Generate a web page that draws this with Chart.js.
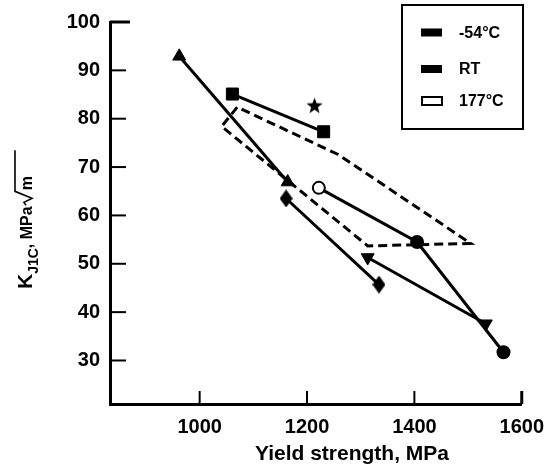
<!DOCTYPE html>
<html>
<head>
<meta charset="utf-8">
<script src="https://cdn.jsdelivr.net/npm/chart.js@4.4.0/dist/chart.umd.min.js"></script>
<style>
  html, body { margin: 0; padding: 0; background: #fff; }
</style>
</head>
<body>
<canvas id="grafica" width="555" height="472"></canvas>
<script>
// ticks
const xTicks = [1000, 1200, 1400, 1600];
const yTicks = [30, 40, 50, 60, 70, 80, 90, 100];

// series (yield strength MPa, KJ1C MPa*sqrt(m))
const trianguloArriba = [{x: 962, y: 92.9}, {x: 1164, y: 66.9}];
const cuadrados = [{x: 1061, y: 85.1}, {x: 1231, y: 77.3}];
const estrella = [{x: 1214, y: 82.8}];
const rombos = [{x: 1161, y: 63.5}, {x: 1334, y: 45.7}];
const circulos = [{x: 1222, y: 65.7}, {x: 1405, y: 54.5}, {x: 1566, y: 31.7}];
const circulosAbiertos = [true, false, false];
const trianguloAbajo = [{x: 1313, y: 51.3}, {x: 1533, y: 37.6}];
const banda = [
    {x: 1070, y: 82.4}, {x: 1041, y: 78.4}, {x: 1313, y: 53.7},
    {x: 1505, y: 54.2}, {x: 1258, y: 72.6}, {x: 1070, y: 82.4}
];

// legend and titles
const leyendaTextos = ['-54°C', 'RT', '177°C'];
const leyendaAbierta = [false, false, true];
const tituloX = 'Yield strength, MPa';
const tituloY = {base: 'K', sub: 'J1C', resto: ', MPa', raiz: 'm'};

const fuente = '"Liberation Sans", Arial, sans-serif';

const hacerEstrella = (r) => {
    const c = document.createElement('canvas');
    c.width = c.height = Math.ceil(r * 2) + 2;
    const g = c.getContext('2d');
    const cx = c.width / 2, cy = c.height / 2 + 1;
    g.beginPath();
    for (let i = 0; i < 10; i++) {
        const rr = i % 2 === 0 ? r : r * 0.42;
        const a = -Math.PI / 2 + i * Math.PI / 5;
        g.lineTo(cx + rr * Math.cos(a), cy + rr * Math.sin(a));
    }
    g.closePath();
    g.fillStyle = '#000';
    g.fill();
    return c;
};

const hacerRombo = (w, h) => {
    const c = document.createElement('canvas');
    c.width = w; c.height = h;
    const g = c.getContext('2d');
    g.beginPath();
    g.moveTo(w / 2, 0);
    g.lineTo(w, h / 2);
    g.lineTo(w / 2, h);
    g.lineTo(0, h / 2);
    g.closePath();
    g.fillStyle = '#000';
    g.fill();
    return c;
};

const marcas = {
    id: 'marcas',
    afterDraw(chart) {
        const {ctx, chartArea, scales: {x, y}} = chart;
        ctx.save();
        ctx.strokeStyle = '#000';
        yTicks.forEach((v, i) => {
            const py = y.getPixelForValue(v);
            const ultimo = i === yTicks.length - 1;
            ctx.lineWidth = ultimo ? 3 : 2;
            ctx.beginPath();
            ctx.moveTo(chartArea.left, py);
            ctx.lineTo(chartArea.left + (ultimo ? 20 : 16), py);
            ctx.stroke();
        });
        xTicks.forEach((v, i) => {
            const px = x.getPixelForValue(v);
            ctx.lineWidth = i === xTicks.length - 1 ? 3 : 2;
            ctx.beginPath();
            ctx.moveTo(px, chartArea.bottom);
            ctx.lineTo(px, chartArea.bottom - 13);
            ctx.stroke();
        });
        ctx.restore();
    }
};

const leyenda = {
    id: 'leyenda',
    afterDraw(chart) {
        const {ctx} = chart;
        const filas = [32.5, 69, 101];
        ctx.save();
        ctx.strokeStyle = '#000';
        ctx.lineWidth = 2;
        ctx.strokeRect(402, 5, 121, 124);
        ctx.font = 'bold 16px ' + fuente;
        ctx.textBaseline = 'middle';
        leyendaTextos.forEach((t, i) => {
            const cy = filas[i];
            if (leyendaAbierta[i]) {
                ctx.fillStyle = '#fff';
                ctx.fillRect(422, cy - 4, 20, 8);
                ctx.lineWidth = 2;
                ctx.strokeRect(422, cy - 4, 20, 8);
            } else {
                ctx.fillStyle = '#000';
                ctx.fillRect(421, cy - 4, 21, 8);
            }
            ctx.fillStyle = '#000';
            ctx.fillText(t, 459, cy + 1);
        });
        ctx.restore();
    }
};

const titulos = {
    id: 'titulos',
    afterDraw(chart) {
        const {ctx} = chart;
        ctx.save();
        ctx.fillStyle = '#000';
        ctx.strokeStyle = '#000';
        ctx.font = 'bold 21px ' + fuente;
        ctx.textAlign = 'center';
        ctx.textBaseline = 'alphabetic';
        ctx.fillText(tituloX, 352, 460);

        ctx.textAlign = 'left';
        ctx.translate(32, 289);
        ctx.rotate(-Math.PI / 2);
        ctx.font = 'bold 21px ' + fuente;
        ctx.fillText(tituloY.base, 0, 0);
        let u = ctx.measureText(tituloY.base).width;
        ctx.font = 'bold 14px ' + fuente;
        ctx.fillText(tituloY.sub, u, 6);
        u += ctx.measureText(tituloY.sub).width;
        ctx.font = 'bold 16px ' + fuente;
        ctx.fillText(tituloY.resto, u, 0);
        u += ctx.measureText(tituloY.resto).width;
        ctx.lineWidth = 1.6;
        ctx.beginPath();
        ctx.moveTo(u + 1, -6);
        ctx.lineTo(u + 4, -8);
        ctx.lineTo(u + 8, 0);
        ctx.lineTo(u + 15, -17);
        ctx.lineTo(u + 56, -17);
        ctx.stroke();
        ctx.fillText(tituloY.raiz, u + 16, 0);
        ctx.restore();
    }
};

const linea = (datos, extra) => Object.assign({
    data: datos,
    showLine: true,
    borderColor: '#000',
    borderWidth: 3,
    pointBackgroundColor: '#000',
    pointBorderColor: '#000',
    pointBorderWidth: 1
}, extra);

new Chart(document.getElementById('grafica'), {
    type: 'scatter',
    data: {
        datasets: [
            linea(banda, {borderDash: [9, 5], pointRadius: 0, borderWidth: 3}),
            linea(trianguloArriba, {pointStyle: 'triangle', pointRadius: 7.5}),
            linea(cuadrados, {pointStyle: 'rect', pointRadius: 8.5}),
            linea(estrella, {showLine: false, pointStyle: hacerEstrella(8.5), pointRadius: 9}),
            linea(rombos, {pointStyle: hacerRombo(13, 18), pointRadius: 9}),
            linea(circulos, {
                pointStyle: 'circle',
                pointRadius: 6,
                pointBorderWidth: 2,
                pointBackgroundColor: circulosAbiertos.map(a => a ? '#fff' : '#000')
            }),
            linea(trianguloAbajo, {pointStyle: 'triangle', pointRotation: 180, pointRadius: 7.5})
        ]
    },
    options: {
        responsive: false,
        animation: false,
        events: [],
        layout: {padding: {top: 15, right: 25, left: 0, bottom: 0}},
        plugins: {legend: {display: false}, tooltip: {enabled: false}},
        scales: {
            x: {
                type: 'linear',
                min: 833,
                max: 1600,
                afterFit: (s) => { s.height = 68; },
                afterBuildTicks: (s) => { s.ticks = xTicks.map(v => ({value: v})); },
                grid: {display: false, drawTicks: false},
                border: {display: true, color: '#000', width: 3},
                ticks: {
                    color: '#000',
                    padding: 11,
                    maxRotation: 0,
                    callback: (v) => String(v),
                    font: {family: fuente, size: 20, weight: 'bold'}
                }
            },
            y: {
                type: 'linear',
                min: 21,
                max: 100,
                afterFit: (s) => { s.width = 110; },
                afterBuildTicks: (s) => { s.ticks = yTicks.map(v => ({value: v})); },
                grid: {display: false, drawTicks: false},
                border: {display: true, color: '#000', width: 3},
                ticks: {
                    color: '#000',
                    padding: 10,
                    callback: (v) => String(v),
                    font: {family: fuente, size: 20, weight: 'bold'}
                }
            }
        }
    },
    plugins: [marcas, leyenda, titulos]
});
</script>
</body>
</html>
